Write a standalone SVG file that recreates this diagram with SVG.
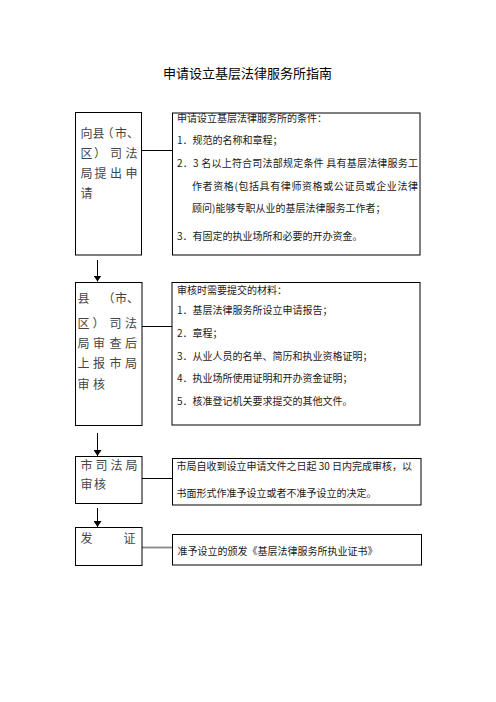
<svg xmlns="http://www.w3.org/2000/svg" width="496" height="702" viewBox="0 0 496 702">
<defs>
<style>
.box{fill:#fff;stroke:#000;stroke-width:1}
.big{font-family:"Noto Sans CJK SC","Liberation Sans",sans-serif;font-size:12px;fill:#444}
.sm{font-family:"Noto Sans CJK SC","Liberation Sans",sans-serif;font-size:10px;fill:#1a1a1a}
.title{font-family:"Noto Sans CJK SC","Liberation Sans",sans-serif;font-size:13px;fill:#000}
.ln{stroke:#000;stroke-width:1;fill:none}
</style>
<marker id="ah" viewBox="0 0 6 8" refX="6" refY="4" markerWidth="6" markerHeight="8" markerUnits="userSpaceOnUse" orient="auto">
<path d="M0,0 L6,4 L0,8 Z" fill="#000"/>
</marker>
</defs>
<rect width="496" height="702" fill="#fff"/>
<text class="title" x="247.5" y="78" text-anchor="middle">申请设立基层法律服务所指南</text>

<g id="connectors">
<line class="ln" x1="142" y1="150.5" x2="172.5" y2="150.5"/>
<line class="ln" x1="142" y1="326.5" x2="172" y2="326.5"/>
<line class="ln" x1="142" y1="478.5" x2="172.5" y2="478.5"/>
<line x1="142" y1="547.5" x2="172.5" y2="547.5" stroke="#888" stroke-width="1.8"/>
<line class="ln" x1="97.5" y1="260" x2="97.5" y2="281.5" marker-end="url(#ah)"/>
<line class="ln" x1="97.5" y1="433" x2="97.5" y2="456" marker-end="url(#ah)"/>
<line class="ln" x1="97.5" y1="508" x2="97.5" y2="527" marker-end="url(#ah)"/>
</g>

<g id="step1">
<rect class="box" x="75.5" y="112.5" width="66" height="142.5"/>
<text class="big" y="138" x="80.5 92.5 101.5 115 127">向县（市、</text>
<text class="big" y="158" x="80.5 94 110 125.5">区）司法</text>
<text class="big" y="178" x="80.5 94.5 110 125.5">局提出申</text>
<text class="big" y="198" x="80.5">请</text>
</g>
<g id="cond1">
<rect class="box" x="172.5" y="113" width="247.5" height="142"/>
<text class="sm" x="177" y="121.5">申请设立基层法律服务所的条件：</text>
<text class="sm" x="177" y="143.5">1．规范的名称和章程；</text>
<text class="sm" x="177" y="167" textLength="241" lengthAdjust="spacing">2．3 名以上符合司法部规定条件 具有基层法律服务工</text>
<text class="sm" x="192" y="190" textLength="226" lengthAdjust="spacing">作者资格(包括具有律师资格或公证员或企业法律</text>
<text class="sm" x="192" y="212">顾问)能够专职从业的基层法律服务工作者；</text>
<text class="sm" x="177" y="240">3．有固定的执业场所和必要的开办资金。</text>
</g>

<g id="step2">
<rect class="box" x="75.5" y="282.5" width="66.5" height="143"/>
<text class="big" y="302.5" x="77.5 88 102.5 115 127">县 （市、</text>
<text class="big" y="327.5" x="77.5 92.5 109.5 125">区）司法</text>
<text class="big" y="347.5" x="77.5 93 109.5 125">局审查后</text>
<text class="big" y="368" x="77.5 93 109.5 125">上报市局</text>
<text class="big" y="389" x="77.5 93">审核</text>
</g>
<g id="cond2">
<rect class="box" x="172" y="282.5" width="248" height="142.5"/>
<text class="sm" x="177" y="293.5">审核时需要提交的材料：</text>
<text class="sm" x="177" y="313.5">1．基层法律服务所设立申请报告；</text>
<text class="sm" x="177" y="337">2．章程；</text>
<text class="sm" x="177" y="360">3．从业人员的名单、简历和执业资格证明；</text>
<text class="sm" x="177" y="382">4．执业场所使用证明和开办资金证明；</text>
<text class="sm" x="177" y="405">5．核准登记机关要求提交的其他文件。</text>
</g>

<g id="step3">
<rect class="box" x="75.5" y="456.5" width="66.5" height="47"/>
<text class="big" y="470" x="80.5 95.5 110.5 125.5">市司法局</text>
<text class="big" y="488.5" x="80.5 94">审核</text>
</g>
<g id="cond3">
<rect class="box" x="172.5" y="458.5" width="248.5" height="46.5"/>
<text class="sm" x="176.5" y="470">市局自收到设立申请文件之日起 30 日内完成审核，以</text>
<text class="sm" x="176.5" y="496.5">书面形式作准予设立或者不准予设立的决定。</text>
</g>

<g id="step4">
<rect class="box" x="75.5" y="527.5" width="66.5" height="38"/>
<text class="big" y="543" x="80.5 101 123.5">发 证</text>
</g>
<g id="cond4">
<rect class="box" x="172.5" y="534.5" width="249" height="30.5"/>
<text class="sm" x="177.5" y="554.5">准予设立的颁发《基层法律服务所执业证书》</text>
</g>
</svg>
